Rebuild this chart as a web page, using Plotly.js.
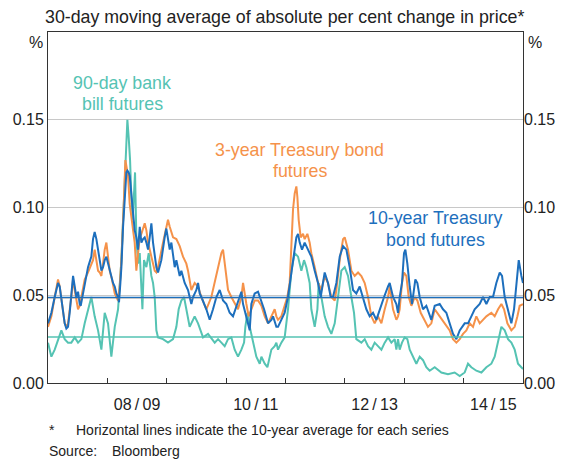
<!DOCTYPE html>
<html>
<head>
<meta charset="utf-8">
<script src="https://cdn.plot.ly/plotly-3.0.1.min.js"></script>
<style>html,body{margin:0;padding:0;background:#fff;}#chart{width:571px;height:459px;}</style>
</head>
<body>
<div id="chart"></div>
<script>
// Time in decimal years (mid-2007 to mid-2015)
const t10 = [2007.5,2007.557,2007.613,2007.669,2007.697,2007.725,2007.753,2007.781,2007.809,2007.837,
2007.865,2007.893,2007.922,2007.950,2007.978,2008.006,2008.034,2008.051,2008.090,2008.118,
2008.146,2008.174,2008.202,2008.230,2008.258,2008.286,2008.315,2008.343,2008.371,2008.399,
2008.427,2008.455,2008.483,2008.511,2008.539,2008.567,2008.595,2008.624,2008.652,2008.680,
2008.696,2008.719,2008.736,2008.764,2008.781,2008.803,2008.820,2008.837,2008.859,2008.876,
2008.904,2008.932,2008.960,2008.988,2009.017,2009.045,2009.073,2009.101,2009.129,2009.157,
2009.185,2009.213,2009.241,2009.269,2009.297,2009.325,
2009.353,2009.409,2009.465,2009.493,2009.550,2009.578,2009.634,2009.662,2009.718,2009.746,
2009.802,2009.858,2009.914,2009.943,2009.999,2010.027,2010.055,2010.083,2010.167,2010.223,
2010.279,2010.336,2010.392,2010.448,2010.504,2010.560,2010.616,2010.672,2010.729,2010.757,
2010.785,2010.841,2010.897,2010.925,2010.981,2011.037,2011.094,2011.139,2011.206,2011.262,
2011.290,2011.346,
2011.374,2011.430,2011.486,2011.542,2011.599,2011.644,2011.683,2011.711,2011.739,2011.778,
2011.823,2011.879,2011.935,2011.992,2012.048,2012.093,2012.160,2012.216,2012.261,2012.300,
2012.357,2012.413,2012.469,2012.525,2012.581,2012.637,2012.693,2012.750,2012.806,2012.862,
2012.918,2012.974,2013.030,2013.087,2013.160,2013.227,2013.255,2013.311,2013.367,
2013.395,2013.423,2013.462,2013.496,2013.519,2013.552,2013.592,2013.631,2013.687,2013.721,
2013.760,2013.816,2013.872,2013.912,2013.956,2014.013,2014.097,2014.153,2014.209,2014.265,
2014.321,2014.378,2014.434,2014.518,2014.574,2014.630,2014.686,2014.771,2014.827,2014.883,
2014.939,2014.995,2015.051,2015.108,2015.147,2015.192,2015.248,2015.304,2015.349,2015.388,
2015.428,2015.473,2015.5];
const bond10 = [0.034,0.040,0.049,0.057,0.055,0.047,0.042,0.034,0.031,0.032,
0.040,0.053,0.061,0.055,0.049,0.052,0.045,0.044,0.051,0.057,
0.061,0.066,0.069,0.072,0.082,0.086,0.082,0.076,0.068,0.064,
0.066,0.070,0.072,0.068,0.064,0.061,0.057,0.055,0.051,0.049,
0.046,0.057,0.066,0.089,0.099,0.112,0.120,0.121,0.120,0.118,
0.108,0.099,0.087,0.083,0.076,0.089,0.080,0.082,0.083,0.080,
0.076,0.083,0.091,0.080,0.072,0.066,
0.063,0.070,0.083,0.088,0.076,0.080,0.066,0.070,0.061,0.064,
0.057,0.053,0.045,0.049,0.053,0.057,0.051,0.049,0.042,0.036,
0.042,0.049,0.053,0.047,0.045,0.040,0.038,0.044,0.049,0.052,
0.045,0.038,0.030,0.045,0.051,0.052,0.047,0.042,0.034,0.036,
0.038,0.032,
0.032,0.036,0.040,0.049,0.064,0.076,0.083,0.085,0.080,0.076,
0.080,0.076,0.072,0.064,0.057,0.049,0.063,0.057,0.049,0.049,
0.057,0.072,0.078,0.076,0.066,0.053,0.051,0.055,0.049,0.042,
0.038,0.040,0.036,0.042,0.049,0.055,0.057,0.049,0.045,
0.040,0.049,0.057,0.074,0.076,0.068,0.055,0.045,0.059,0.057,
0.049,0.042,0.044,0.040,0.036,0.044,0.045,0.042,0.040,0.034,
0.028,0.025,0.030,0.034,0.034,0.038,0.042,0.045,0.049,0.045,
0.049,0.049,0.057,0.063,0.061,0.049,0.042,0.034,0.042,0.057,
0.070,0.061,0.057];

const t3 = [2007.5,2007.557,2007.613,2007.669,2007.697,2007.725,2007.781,2007.809,2007.837,2007.893,
2007.922,2007.950,2008.006,2008.034,2008.090,2008.118,2008.174,2008.230,2008.258,2008.286,
2008.315,2008.343,2008.371,2008.399,2008.427,2008.455,2008.483,2008.511,2008.539,2008.578,
2008.624,2008.680,2008.708,2008.736,2008.764,2008.781,2008.803,2008.820,2008.848,2008.876,
2008.915,2008.960,2008.988,2009.017,2009.045,2009.073,2009.129,2009.157,2009.185,2009.241,
2009.297,2009.325,
2009.353,2009.437,2009.521,2009.550,2009.606,2009.662,2009.718,2009.774,2009.830,2009.858,
2009.886,2009.914,2009.970,2010.027,2010.083,2010.167,2010.251,2010.308,2010.364,2010.420,
2010.448,2010.476,2010.504,2010.532,2010.588,2010.644,2010.700,2010.757,2010.785,2010.841,
2010.880,2010.925,2010.981,2011.037,2011.094,2011.150,2011.206,2011.262,2011.318,2011.346,
2011.374,2011.430,2011.486,2011.531,2011.570,2011.599,2011.627,2011.655,2011.683,2011.700,
2011.722,2011.756,2011.795,2011.823,2011.868,2011.907,2011.935,2011.992,2012.048,2012.104,
2012.160,2012.216,2012.272,2012.329,2012.357,2012.413,2012.469,2012.497,2012.553,2012.609,
2012.665,2012.722,2012.778,2012.834,2012.890,2012.946,2013.002,2013.058,2013.115,2013.171,
2013.227,2013.255,2013.311,2013.367,
2013.395,2013.423,2013.462,2013.496,2013.535,2013.575,2013.620,2013.676,2013.721,2013.777,
2013.833,2013.900,2013.956,2014.013,2014.097,2014.181,2014.265,2014.321,2014.378,2014.434,
2014.490,2014.546,2014.602,2014.658,2014.714,2014.771,2014.827,2014.883,2014.967,2015.023,
2015.080,2015.136,2015.181,2015.237,2015.304,2015.360,2015.406,2015.444,2015.5];
const bond3 = [0.032,0.038,0.049,0.059,0.055,0.047,0.034,0.032,0.034,0.049,
0.059,0.053,0.042,0.044,0.053,0.059,0.063,0.068,0.070,0.076,
0.070,0.064,0.063,0.061,0.068,0.076,0.080,0.072,0.064,0.059,
0.051,0.047,0.055,0.070,0.089,0.106,0.127,0.123,0.118,0.102,
0.093,0.080,0.064,0.076,0.083,0.085,0.091,0.087,0.080,0.072,
0.064,0.063,
0.066,0.080,0.093,0.089,0.083,0.082,0.078,0.072,0.068,0.064,
0.057,0.053,0.057,0.055,0.049,0.042,0.049,0.057,0.066,0.074,
0.076,0.068,0.061,0.053,0.049,0.045,0.042,0.049,0.057,0.045,
0.038,0.042,0.047,0.047,0.044,0.038,0.034,0.038,0.042,0.038,
0.036,0.038,0.044,0.049,0.057,0.080,0.099,0.108,0.112,0.106,
0.093,0.083,0.085,0.082,0.085,0.080,0.074,0.066,0.057,0.053,
0.061,0.057,0.049,0.047,0.053,0.070,0.082,0.083,0.076,0.064,
0.061,0.063,0.061,0.057,0.049,0.038,0.034,0.038,0.034,0.042,
0.049,0.055,0.042,0.036,
0.038,0.042,0.057,0.063,0.061,0.049,0.044,0.049,0.047,0.040,
0.036,0.032,0.034,0.042,0.038,0.034,0.030,0.025,0.023,0.025,
0.028,0.030,0.034,0.032,0.038,0.034,0.036,0.038,0.040,0.038,
0.042,0.045,0.042,0.034,0.030,0.032,0.038,0.044,0.045];

const t90 = [2007.5,2007.557,2007.613,2007.669,2007.725,2007.781,2007.837,2007.893,2007.950,2008.006,
2008.062,2008.118,2008.174,2008.230,2008.286,2008.343,2008.399,2008.455,2008.511,2008.567,
2008.624,2008.680,2008.736,2008.781,2008.820,2008.837,2008.859,2008.882,2008.904,2008.927,
2008.949,2008.966,2008.988,2009.017,2009.045,2009.073,2009.090,2009.117,2009.157,2009.196,
2009.241,2009.269,2009.297,2009.325,
2009.353,2009.437,2009.521,2009.606,2009.662,2009.701,2009.746,2009.791,2009.830,2009.886,
2009.970,2010.027,2010.111,2010.195,2010.308,2010.364,2010.420,2010.476,2010.532,2010.588,
2010.644,2010.700,2010.757,2010.802,2010.824,2010.858,2010.897,2010.953,2011.009,2011.066,
2011.094,2011.150,2011.195,2011.262,2011.318,2011.346,
2011.374,2011.430,2011.486,2011.542,2011.599,2011.655,2011.711,2011.767,2011.812,2011.851,
2011.907,2011.935,2011.992,2012.037,2012.059,2012.104,2012.160,2012.216,2012.272,2012.329,
2012.385,2012.441,2012.497,2012.553,2012.609,2012.654,2012.693,2012.778,2012.834,2012.890,
2012.946,2013.002,2013.058,2013.115,2013.171,2013.227,2013.283,2013.339,2013.367,
2013.395,2013.423,2013.462,2013.507,2013.552,2013.592,2013.648,2013.704,2013.760,2013.816,
2013.872,2013.928,2014.013,2014.125,2014.237,2014.349,2014.434,2014.518,2014.574,2014.630,
2014.714,2014.799,2014.883,2014.967,2015.023,2015.080,2015.136,2015.192,2015.248,2015.304,
2015.360,2015.416,2015.473,2015.5];
const bill90 = [0.023,0.015,0.019,0.025,0.030,0.025,0.023,0.023,0.026,0.023,
0.025,0.034,0.042,0.049,0.038,0.030,0.019,0.040,0.034,0.015,
0.032,0.042,0.070,0.108,0.146,0.150,0.140,0.127,0.106,0.093,
0.108,0.120,0.083,0.068,0.074,0.049,0.042,0.070,0.066,0.074,
0.061,0.057,0.049,0.030,
0.026,0.025,0.023,0.025,0.032,0.042,0.047,0.049,0.042,0.032,
0.038,0.034,0.026,0.028,0.023,0.025,0.023,0.021,0.025,0.026,
0.019,0.015,0.019,0.023,0.032,0.040,0.032,0.023,0.015,0.011,
0.015,0.011,0.009,0.019,0.021,0.023,
0.019,0.023,0.026,0.042,0.064,0.074,0.072,0.064,0.070,0.066,
0.057,0.042,0.032,0.042,0.057,0.049,0.038,0.032,0.028,0.034,
0.049,0.064,0.066,0.061,0.049,0.040,0.025,0.023,0.025,0.021,
0.019,0.023,0.021,0.019,0.023,0.026,0.023,0.025,0.019,
0.025,0.019,0.023,0.026,0.025,0.019,0.015,0.011,0.015,0.013,
0.009,0.007,0.009,0.006,0.005,0.006,0.004,0.006,0.011,0.009,
0.007,0.006,0.009,0.011,0.015,0.023,0.032,0.030,0.025,0.023,
0.019,0.011,0.009,0.008];

// 10-year averages (horizontal lines)
const avg10 = 0.0487;
const avg3 = 0.0487;
const avg90 = 0.0262;

const xRange = [2007.5, 2015.5];
const yearTicks = [2007.5,2008.5,2009.5,2010.5,2011.5,2012.5,2013.5,2014.5,2015.5];
const labelPos = [2009, 2011, 2013, 2015];
const labelText = ['08\u2009/\u200909', '10\u2009/\u200911', '12\u2009/\u200913', '14\u2009/\u200915'];
const yTicks = [0, 0.05, 0.10, 0.15];
const yTickText = ['0.00', '0.05', '0.10', '0.15'];

const cTeal = '#55C3B3', cOrange = '#F5924A', cBlue = '#1D6FBD';

const traces = [
  {x: t90, y: bill90, type: 'scatter', mode: 'lines', line: {color: cTeal, width: 2}, name: '90-day bank bill futures'},
  {x: t3, y: bond3, type: 'scatter', mode: 'lines', line: {color: cOrange, width: 2}, name: '3-year Treasury bond futures'},
  {x: t10, y: bond10, type: 'scatter', mode: 'lines', line: {color: cBlue, width: 2}, name: '10-year Treasury bond futures'},
  {x: xRange, y: [avg90, avg90], xaxis: 'x2', yaxis: 'y2', type: 'scatter', mode: 'lines', line: {color: cTeal, width: 1.5}, hoverinfo: 'skip'},
  {x: xRange, y: [avg3, avg3], xaxis: 'x2', yaxis: 'y2', type: 'scatter', mode: 'lines', line: {color: cOrange, width: 1.2}, hoverinfo: 'skip'},
  {x: xRange, y: [avg10, avg10], xaxis: 'x2', yaxis: 'y2', type: 'scatter', mode: 'lines', line: {color: cBlue, width: 1.6}, hoverinfo: 'skip'}
];

const font = 'Liberation Sans, Arial, Helvetica, sans-serif';
function note(text, x, y, size, color, anchor) {
  return {text: text, xref: 'paper', yref: 'paper', x: x, y: y, xanchor: anchor || 'center', yanchor: 'middle',
          showarrow: false, font: {size: size, color: color}};
}
const layout = {
  width: 571, height: 459,
  margin: {l: 48, r: 48, t: 32, b: 76},
  paper_bgcolor: '#ffffff', plot_bgcolor: '#ffffff',
  showlegend: false,
  font: {family: font, size: 16, color: '#222222'},
  xaxis: {range: xRange, tickvals: yearTicks, ticks: 'inside', ticklen: 5, tickcolor: '#333', tickwidth: 1,
          showticklabels: false, showgrid: false, zeroline: false, showline: true, linecolor: '#333', linewidth: 1, mirror: true},
  xaxis2: {range: xRange, overlaying: 'x', anchor: 'y2', side: 'bottom', tickvals: labelPos, ticktext: labelText,
           ticks: '', ticklabelstandoff: 10, showgrid: false, zeroline: false, showline: false, tickfont: {size: 16, color: '#222'}},
  yaxis: {range: [0, 0.2], tickvals: yTicks, ticktext: yTickText, ticks: '', showgrid: true, gridcolor: '#c8c8c8', gridwidth: 1,
          zeroline: false, showline: true, linecolor: '#333', linewidth: 1, mirror: true, tickfont: {size: 16, color: '#222'}},
  yaxis2: {range: [0, 0.2], overlaying: 'y', anchor: 'x2', side: 'right', tickvals: yTicks, ticktext: yTickText, ticks: '',
           showgrid: false, zeroline: false, showline: false, tickfont: {size: 16, color: '#222'}},
  annotations: [
    note('30-day moving average of absolute per cent change in price*', 0.4979, 1.0427, 17.8, '#222'),
    note('%', -0.0253, 0.9687, 16, '#222'),
    note('%', 1.0253, 0.9687, 16, '#222'),
    note('90-day bank', 0.1558, 0.8547, 17.8, cTeal),
    note('bill futures', 0.1558, 0.7949, 17.8, cTeal),
    note('3-year Treasury bond', 0.5305, 0.6638, 17.8, cOrange),
    note('futures', 0.5305, 0.6040, 17.8, cOrange),
    note('10-year Treasury', 0.8158, 0.4701, 17.8, cBlue),
    note('bond futures', 0.8158, 0.4074, 17.8, cBlue),
    note('*', -0.0021, -0.1339, 14, '#222', 'left'),
    note('Horizontal lines indicate the 10-year average for each series', 0.0547, -0.1339, 14, '#222', 'left'),
    note('Source:', -0.0021, -0.1937, 14, '#222', 'left'),
    note('Bloomberg', 0.1305, -0.1937, 14, '#222', 'left')
  ]
};

Plotly.newPlot('chart', traces, layout, {staticPlot: true, displayModeBar: false});
</script>
</body>
</html>
